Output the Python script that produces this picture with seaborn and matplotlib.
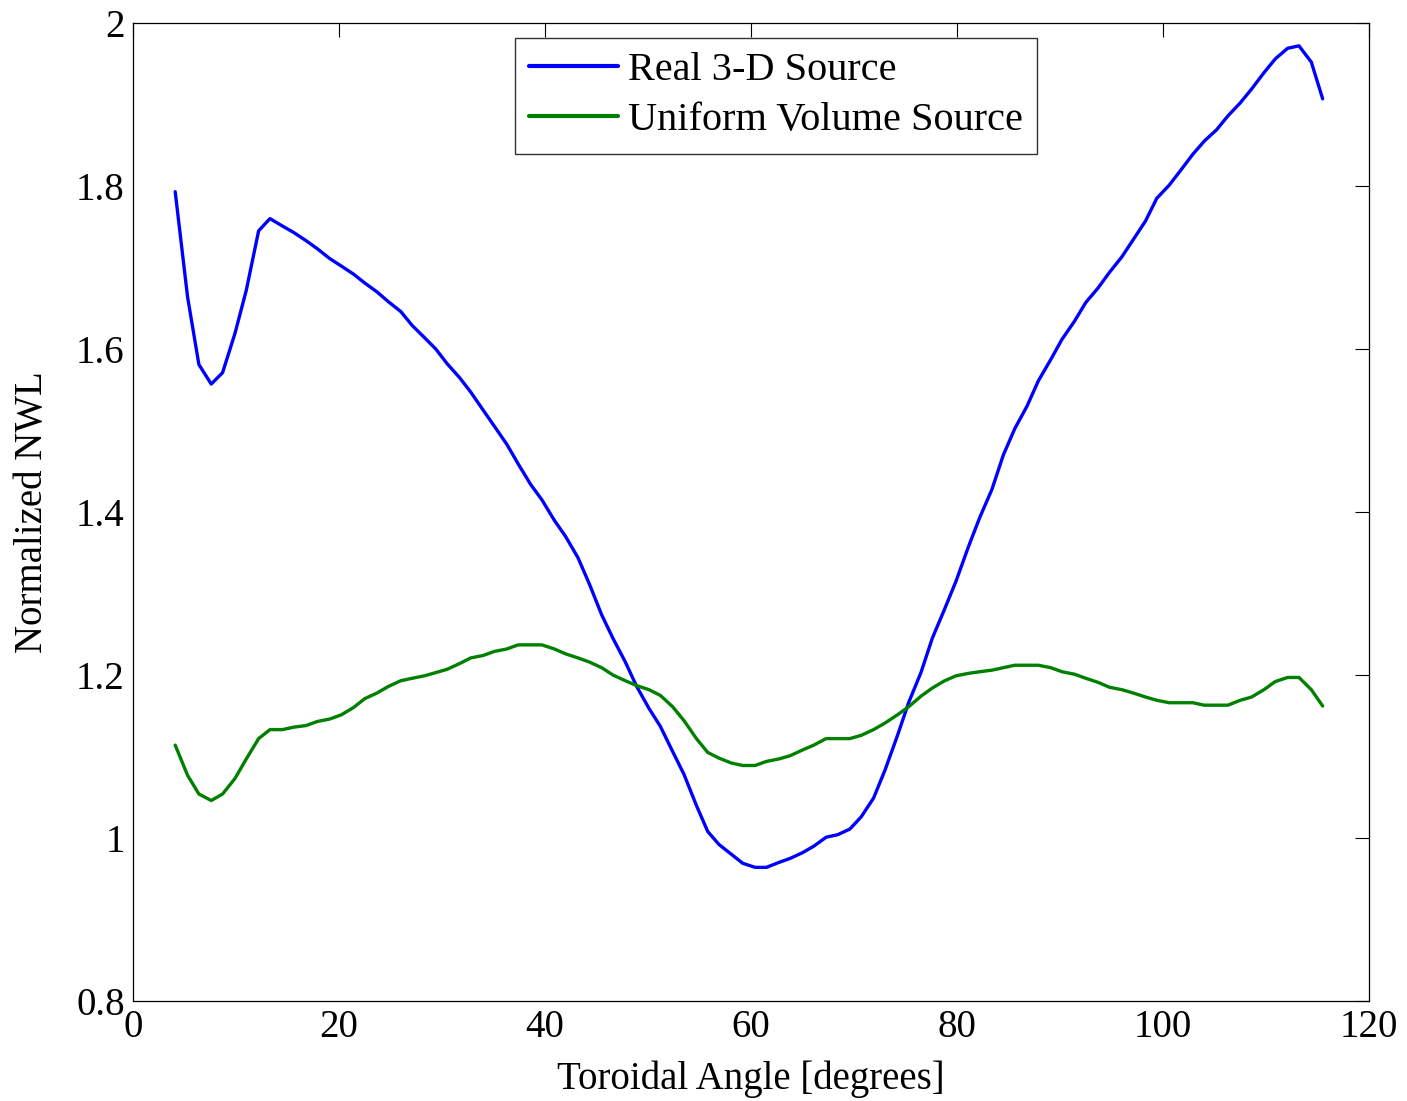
import numpy as np
import pandas as pd
import matplotlib
matplotlib.use("Agg")
import matplotlib.pyplot as plt
import seaborn as sns
from matplotlib.ticker import FormatStrFormatter

# ─────────────────────────────
#  DATA
# ─────────────────────────────
angle = [4.1, 5.3, 6.4, 7.6, 8.7, 9.9, 11.0, 12.2, 13.3, 14.5,
         15.6, 16.8, 17.9, 19.1, 20.2, 21.4, 22.5, 23.7, 24.8, 26.0,
         27.1, 28.3, 29.4, 30.5, 31.7, 32.8, 34.0, 35.1, 36.3, 37.4,
         38.6, 39.7, 40.9, 42.0, 43.2, 44.3, 45.5, 46.6, 47.8, 48.9,
         50.1, 51.2, 52.4, 53.5, 54.7, 55.8, 56.9, 58.1, 59.2, 60.4,
         61.5, 62.7, 63.8, 65.0, 66.1, 67.3, 68.4, 69.6, 70.7, 71.9,
         73.0, 74.2, 75.3, 76.5, 77.6, 78.8, 79.9, 81.1, 82.2, 83.4,
         84.5, 85.6, 86.8, 87.9, 89.1, 90.2, 91.4, 92.5, 93.7, 94.8,
         96.0, 97.1, 98.3, 99.4, 100.6, 101.7, 102.9, 104.0, 105.2, 106.3,
         107.5, 108.6, 109.8, 110.9, 112.1, 113.2, 114.4, 115.5]

real_3d = [1.793, 1.664, 1.581, 1.557, 1.571, 1.619, 1.672, 1.745, 1.760, 1.751,
           1.743, 1.733, 1.723, 1.711, 1.702, 1.692, 1.681, 1.670, 1.658, 1.646,
           1.629, 1.614, 1.600, 1.582, 1.565, 1.547, 1.525, 1.505, 1.483, 1.459,
           1.434, 1.415, 1.390, 1.370, 1.344, 1.312, 1.274, 1.245, 1.216, 1.186,
           1.159, 1.137, 1.106, 1.078, 1.040, 1.008, 0.992, 0.980, 0.969, 0.964,
           0.964, 0.970, 0.975, 0.982, 0.990, 1.001, 1.004, 1.011, 1.026, 1.049,
           1.083, 1.125, 1.166, 1.203, 1.245, 1.281, 1.315, 1.357, 1.393, 1.428,
           1.470, 1.502, 1.530, 1.561, 1.587, 1.612, 1.634, 1.657, 1.675, 1.694,
           1.713, 1.734, 1.757, 1.785, 1.801, 1.819, 1.839, 1.855, 1.869, 1.886,
           1.902, 1.919, 1.939, 1.956, 1.969, 1.972, 1.952, 1.907]

uniform_vol = [1.114, 1.077, 1.054, 1.046, 1.054, 1.073, 1.097, 1.122, 1.133, 1.133,
               1.136, 1.138, 1.143, 1.146, 1.151, 1.160, 1.171, 1.178, 1.186, 1.193,
               1.196, 1.199, 1.203, 1.207, 1.214, 1.221, 1.224, 1.229, 1.232, 1.237,
               1.237, 1.237, 1.232, 1.226, 1.221, 1.216, 1.209, 1.200, 1.193, 1.187,
               1.182, 1.175, 1.161, 1.144, 1.122, 1.105, 1.098, 1.092, 1.089, 1.089,
               1.094, 1.097, 1.101, 1.108, 1.114, 1.122, 1.122, 1.122, 1.126, 1.133,
               1.141, 1.151, 1.161, 1.174, 1.184, 1.193, 1.199, 1.202, 1.204, 1.206,
               1.209, 1.212, 1.212, 1.212, 1.209, 1.204, 1.201, 1.196, 1.191, 1.185,
               1.182, 1.178, 1.173, 1.169, 1.166, 1.166, 1.166, 1.163, 1.163, 1.163,
               1.169, 1.173, 1.182, 1.192, 1.197, 1.197, 1.182, 1.162]

series_names = ['Real 3-D Source', 'Uniform Volume Source']
series_colors = ['#0000ff', '#008000']

x_ticks = [0, 20, 40, 60, 80, 100, 120]
y_ticks = [0.8, 1.0, 1.2, 1.4, 1.6, 1.8, 2.0]

df = pd.concat([
    pd.DataFrame({'angle': angle, 'nwl': real_3d, 'source': series_names[0]}),
    pd.DataFrame({'angle': angle, 'nwl': uniform_vol, 'source': series_names[1]}),
])

# ─────────────────────────────
#  STYLE  (MATLAB-like look)
# ─────────────────────────────
sns.set_style('white')
plt.rcParams['font.family'] = ['Liberation Serif', 'DejaVu Serif']
plt.rcParams['text.color'] = 'black'
plt.rcParams['axes.labelcolor'] = 'black'
plt.rcParams['xtick.color'] = 'black'
plt.rcParams['ytick.color'] = 'black'
plt.rcParams['xtick.direction'] = 'in'
plt.rcParams['ytick.direction'] = 'in'

fig = plt.figure(figsize=(14.07, 11.01), dpi=100)
ax = fig.add_axes([0.0945, 0.0908, 0.8785, 0.8883])

sns.lineplot(data=df, x='angle', y='nwl', hue='source',
             palette=dict(zip(series_names, series_colors)),
             linewidth=2.4, ax=ax, sort=False, estimator=None)

ax.set_xlim(0, 120)
ax.set_ylim(0.8, 2.0)
ax.set_xticks(x_ticks)
ax.set_yticks(y_ticks)
ax.yaxis.set_major_formatter(FormatStrFormatter('%g'))
ax.tick_params(axis='both', which='major', labelsize=28, length=10, width=0.8,
               top=True, right=True, labelcolor='black', pad=6)
for s in ax.spines.values():
    s.set_color('black')
    s.set_linewidth(0.9)

ax.set_xlabel('Toroidal Angle [degrees]', fontsize=28, labelpad=10)
ax.set_ylabel('Normalized NWL', fontsize=28, labelpad=18)

leg = ax.legend(loc='upper left', bbox_to_anchor=(0.309, 0.985), fontsize=29,
                frameon=True, fancybox=False, handlelength=2.2,
                handletextpad=0.25, borderpad=0.35, labelspacing=0.33,
                borderaxespad=0)
leg.get_frame().set_edgecolor('black')
leg.get_frame().set_linewidth(1.0)
for line in leg.get_lines():
    line.set_linewidth(3)

plt.savefig('out.png', dpi=100, facecolor='white')
print("saved out.png")
